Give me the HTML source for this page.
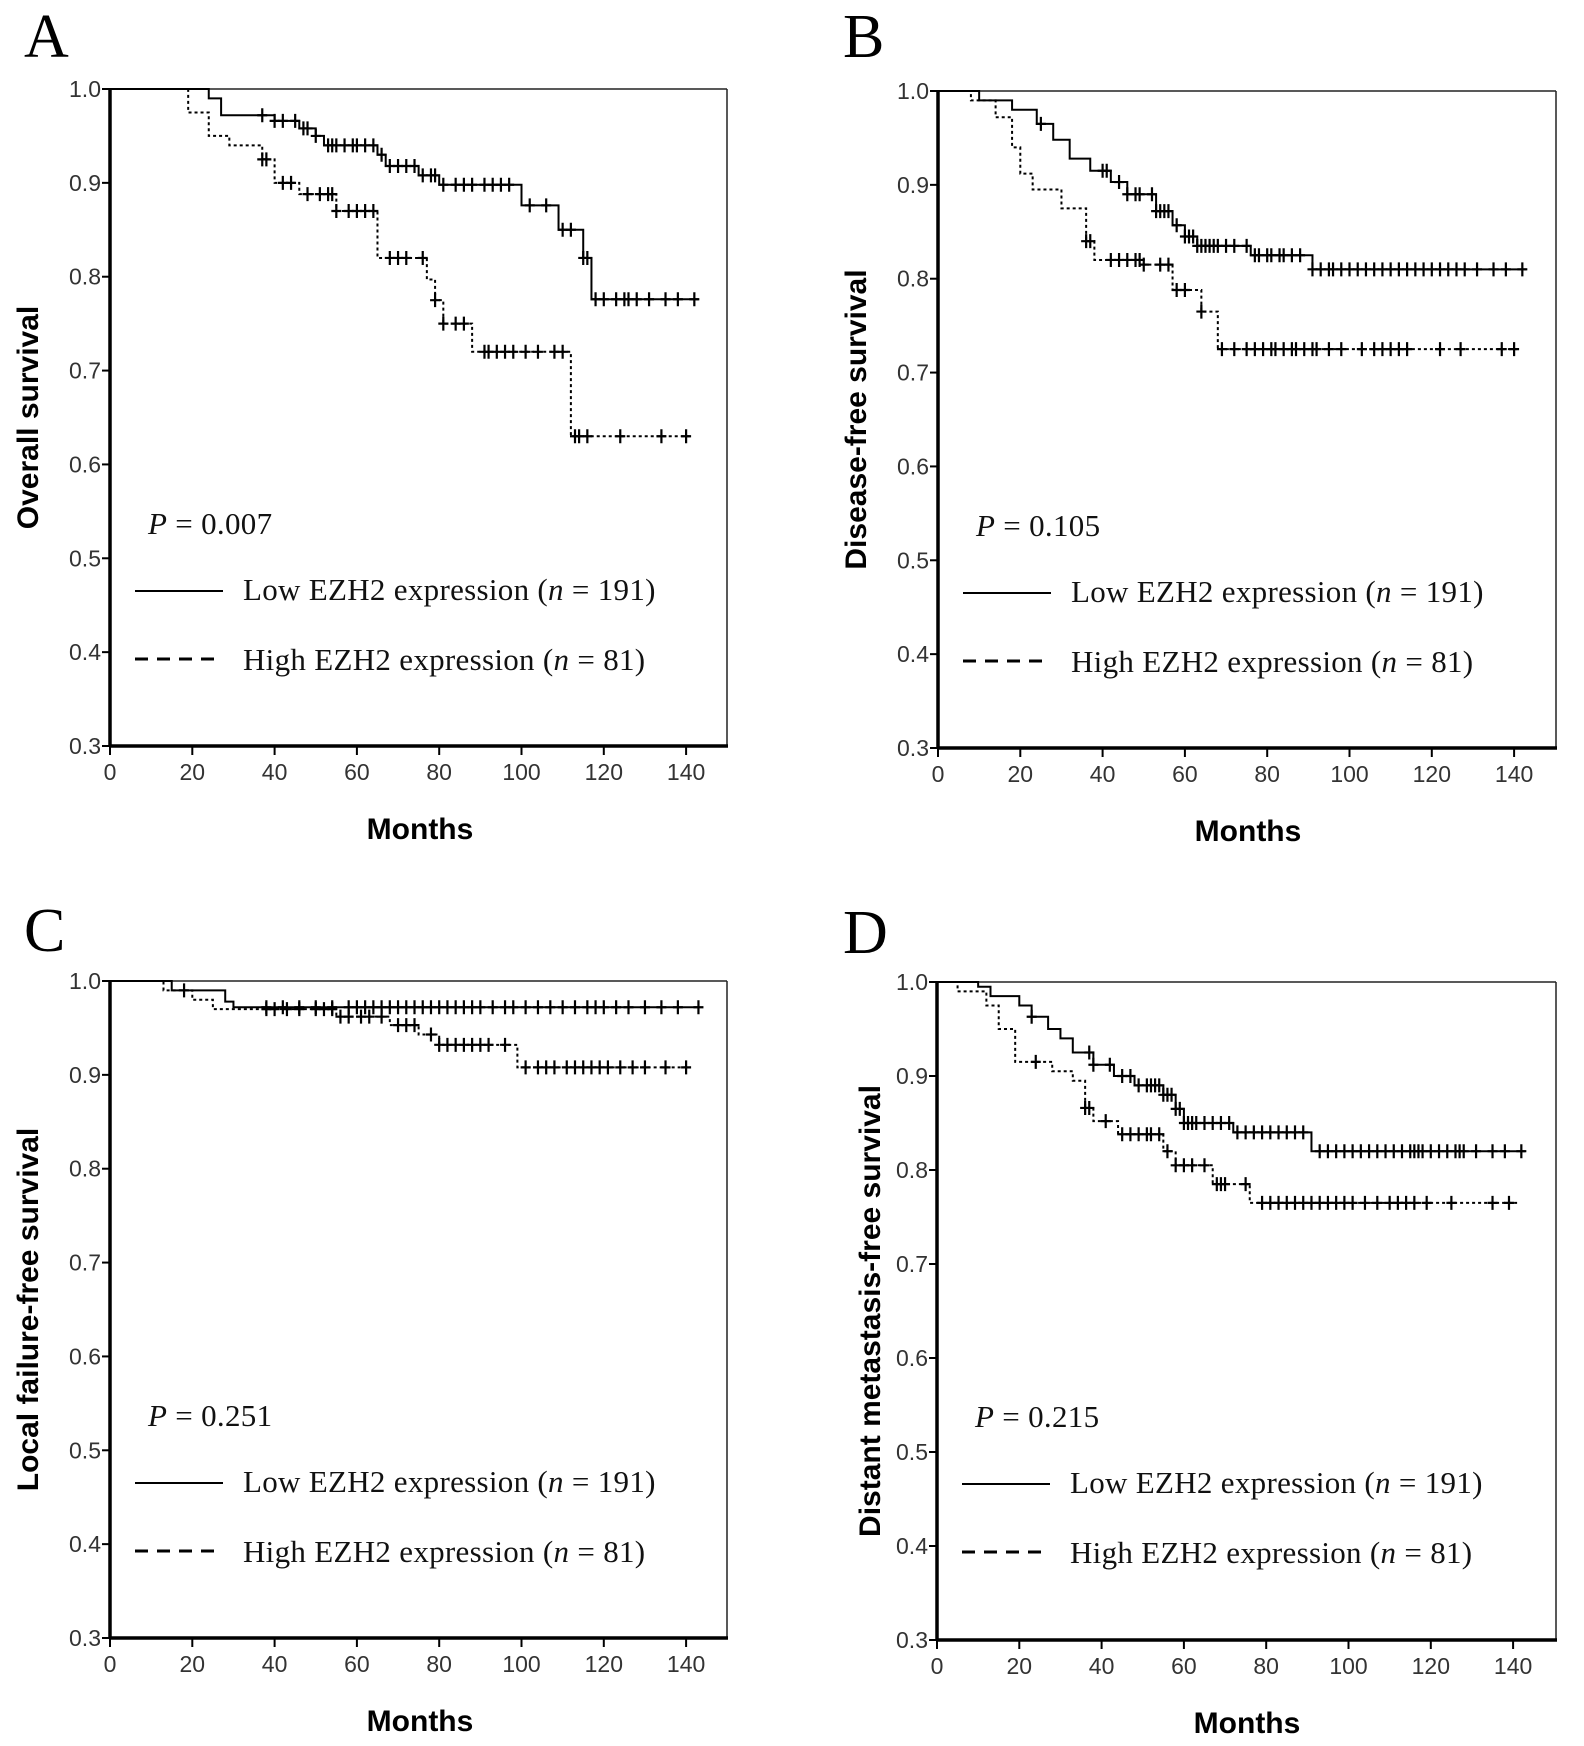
<!DOCTYPE html>
<html><head><meta charset="utf-8"><style>
body{margin:0;background:#fff}
svg{display:block}
.tick{font-family:"Liberation Sans",Arial,sans-serif;font-size:23px;fill:#333}
.ttl{font-family:"Liberation Sans",Arial,sans-serif;font-size:30px;font-weight:bold;fill:#000}
.ser{font-family:"Liberation Serif","Times New Roman",serif;font-size:31px;fill:#111;letter-spacing:0.3px}
.let{font-family:"Liberation Serif","Times New Roman",serif;font-size:62px;fill:#000}
</style></head><body>
<svg id="fig" width="1584" height="1746" viewBox="0 0 1584 1746" xmlns="http://www.w3.org/2000/svg"></svg>
<script>
// Panel A – Overall survival
const aLowT=[0,24,27,40,46,50,52,65,67,75,80,100,109,115,117];
const aLowS=[1,0.99,0.972,0.966,0.958,0.95,0.94,0.93,0.918,0.908,0.898,0.876,0.85,0.82,0.776];
const aLowC=[37,40,42,45,47,48,50,53,54,55,57,59,60,62,64,66,68,70,72,74,76,78,79,81,84,86,88,91,93,95,97,102,106,110,112,115,116,118,120,123,125,126,128,131,135,138,142];
const aHighT=[0,19,24,29,37,40,46,55,65,77,79,81,88,112];
const aHighS=[1,0.975,0.95,0.94,0.925,0.90,0.888,0.87,0.82,0.797,0.775,0.75,0.72,0.63];
const aHighC=[37,38,42,44,48,51,53,54,55,58,60,62,64,68,70,72,76,79,81,84,86,91,92,94,96,98,101,104,108,110,113,114,116,124,134,140];
// Panel B – Disease-free survival
const bLowT=[0,10,18,24,28,32,37,42,46,53,57,60,63,76,91];
const bLowS=[1,0.99,0.98,0.965,0.948,0.928,0.915,0.903,0.89,0.872,0.857,0.845,0.835,0.825,0.81];
const bLowC=[25,40,41,44,46,48,49,52,53,54,55,56,58,60,61,62,63,64,65,66,67,68,70,72,75,77,78,80,81,83,84,86,88,91,93,95,96,98,100,102,104,106,108,110,112,114,116,118,120,122,124,126,128,131,135,138,142];
const bHighT=[0,8,14,18,20,23,30,36,38,50,57,64,68];
const bHighS=[1,0.99,0.972,0.94,0.912,0.895,0.875,0.84,0.82,0.815,0.788,0.765,0.725];
const bHighC=[36,37,42,44,46,48,49,50,54,56,58,60,64,69,72,75,77,79,81,82,84,86,87,89,91,92,95,98,103,106,108,110,112,114,122,127,137,140];
// Panel C – Local failure-free survival
const cLowT=[0,15,28,30];
const cLowS=[1,0.99,0.978,0.972];
const cLowC=[38,42,46,50,54,58,60,62,64,66,68,70,72,74,76,78,80,82,84,86,88,90,93,96,98,101,104,107,110,113,116,118,120,123,126,130,134,138,143];
const cHighT=[0,13,20,25,55,68,75,80,99];
const cHighS=[1,0.99,0.98,0.97,0.962,0.953,0.943,0.932,0.908];
const cHighC=[18,38,40,43,46,50,52,54,56,58,61,63,66,70,72,74,78,80,82,84,86,88,90,92,96,101,104,106,108,111,113,115,117,119,121,124,127,130,135,140];
// Panel D – Distant metastasis-free survival
const dLowT=[0,10,13,20,23,27,30,33,38,43,48,55,58,60,72,91];
const dLowS=[1,0.995,0.985,0.975,0.963,0.95,0.94,0.925,0.912,0.90,0.89,0.88,0.865,0.85,0.84,0.82];
const dLowC=[23,37,38,42,45,47,49,51,52,53,54,55,56,57,58,59,60,61,62,63,65,67,69,71,73,75,77,79,81,83,85,87,89,93,95,97,99,101,103,105,107,109,111,113,115,116,117,118,120,122,124,126,127,128,131,135,138,142];
const dHighT=[0,5,12,15,19,28,33,36,38,44,55,58,67,76];
const dHighS=[1,0.99,0.975,0.95,0.915,0.905,0.895,0.866,0.852,0.838,0.82,0.805,0.785,0.765];
const dHighC=[24,36,37,41,45,47,49,51,52,54,56,58,60,62,65,68,69,70,75,79,81,83,85,87,89,91,93,95,97,99,101,104,107,110,112,114,116,119,125,135,139];

const yTicks=[0.3,0.4,0.5,0.6,0.7,0.8,0.9,1.0];
const xTicks=[0,20,40,60,80,100,120,140];
const svg=document.getElementById('fig');
const NS='http://www.w3.org/2000/svg';
function mk(tag,attrs,parent,text){const e=document.createElementNS(NS,tag);for(const k in attrs)e.setAttribute(k,attrs[k]);if(text!==undefined)e.textContent=text;(parent||svg).appendChild(e);return e;}

function panel(p){
  const g=mk('g',{});
  
  
  const L=p.L,T=p.T,B=p.B,R=p.R,xPer=82.3/20;
  const xs=m=>L+m*xPer;
  const ys=v=>B-(v-0.3)/0.7*(B-T);
  const lt=mk('text',{x:p.lx,y:p.ly,class:'let'},g,p.id);
  
  
  mk('line',{x1:L,y1:T,x2:R,y2:T,stroke:'#222','stroke-width':1.5},g);
  mk('line',{x1:R,y1:T,x2:R,y2:B,stroke:'#222','stroke-width':1.5},g);
  const ya=mk('line',{x1:L,y1:T-1,x2:L,y2:B+1,stroke:'#000','stroke-width':3.5},g);
  
  
  const xa=mk('line',{x1:L-1,y1:B,x2:R+1,y2:B,stroke:'#000','stroke-width':3.5},g);
  
  
  yTicks.forEach(v=>{
    mk('line',{x1:L-8,y1:ys(v),x2:L,y2:ys(v),stroke:'#000','stroke-width':2},g);
    const t=mk('text',{x:L-9,y:ys(v)+8,'text-anchor':'end',class:'tick'},g,v.toFixed(1));
    
    
  });
  xTicks.forEach(v=>{
    mk('line',{x1:xs(v),y1:B,x2:xs(v),y2:B+9,stroke:'#000','stroke-width':2},g);
    const t=mk('text',{x:xs(v),y:B+34,'text-anchor':'middle',class:'tick'},g,String(v));
    
    
  });
  const xt=mk('text',{x:L+310,y:B+93,'text-anchor':'middle',class:'ttl'},g,'Months');
  
  
  const cy=(T+B)/2;
  const yt=mk('text',{x:p.tx,y:cy,'text-anchor':'middle',class:'ttl',transform:`rotate(-90 ${p.tx} ${cy})`},g,p.title);
  
  
  function curve(Ts,Ss,Cs,end,dash,name){
    let d=`M${xs(Ts[0])},${ys(Ss[0])}`;
    for(let i=1;i<Ts.length;i++){d+=` H${xs(Ts[i])} V${ys(Ss[i])}`;}
    d+=` H${xs(end)}`;
    const a={d:d,fill:'none',stroke:'#000','stroke-width':2};
    if(dash)a['stroke-dasharray']='3,3';
    const pth=mk('path',a,g);
    
    
    Cs.forEach(c=>{
      let s=Ss[0];for(let i=0;i<Ts.length;i++){if(Ts[i]<=c)s=Ss[i];}
      const x=xs(c),y=ys(s);
      const m=mk('path',{d:`M${x-5},${y} H${x+5} M${x},${y-7} V${y+7}`,stroke:'#000','stroke-width':2.2},g);
      
      
    });
  }
  curve(p.lowT,p.lowS,p.lowC,143,false,'low-ezh2');
  curve(p.highT,p.highS,p.highC,141,true,'high-ezh2');
  const pv=mk('text',{x:L+38,y:T+445,class:'ser'},g);
  
  
  mk('tspan',{'font-style':'italic'},pv,'P');
  mk('tspan',{},pv,' = '+p.pval);
  const lg=mk('g',{},g);
  
  
  const ll=mk('line',{x1:L+25,y1:T+502,x2:L+113,y2:T+502,stroke:'#000','stroke-width':2},lg);
  
  
  const t1=mk('text',{x:L+133,y:T+511,class:'ser'},lg);
  
  
  mk('tspan',{},t1,'Low EZH2 expression (');mk('tspan',{'font-style':'italic'},t1,'n');mk('tspan',{},t1,' = 191)');
  const hl=mk('line',{x1:L+25,y1:T+570,x2:L+113,y2:T+570,stroke:'#000','stroke-width':3,'stroke-dasharray':'13,9'},lg);
  
  
  const t2=mk('text',{x:L+133,y:T+581,class:'ser'},lg);
  
  
  mk('tspan',{},t2,'High EZH2 expression (');mk('tspan',{'font-style':'italic'},t2,'n');mk('tspan',{},t2,' = 81)');
}
panel({id:'A',L:110,T:89,B:746,R:727,lx:24,ly:57,tx:38,title:'Overall survival',pval:'0.007',lowT:aLowT,lowS:aLowS,lowC:aLowC,highT:aHighT,highS:aHighS,highC:aHighC});
panel({id:'B',L:938,T:91,B:748,R:1556,lx:843,ly:57,tx:866,title:'Disease-free survival',pval:'0.105',lowT:bLowT,lowS:bLowS,lowC:bLowC,highT:bHighT,highS:bHighS,highC:bHighC});
panel({id:'C',L:110,T:981,B:1638,R:727,lx:24,ly:951,tx:38,title:'Local failure-free survival',pval:'0.251',lowT:cLowT,lowS:cLowS,lowC:cLowC,highT:cHighT,highS:cHighS,highC:cHighC});
panel({id:'D',L:937,T:982,B:1640,R:1556,lx:843,ly:953,tx:880,title:'Distant metastasis-free survival',pval:'0.215',lowT:dLowT,lowS:dLowS,lowC:dLowC,highT:dHighT,highS:dHighS,highC:dHighC});
</script>
</body></html>
